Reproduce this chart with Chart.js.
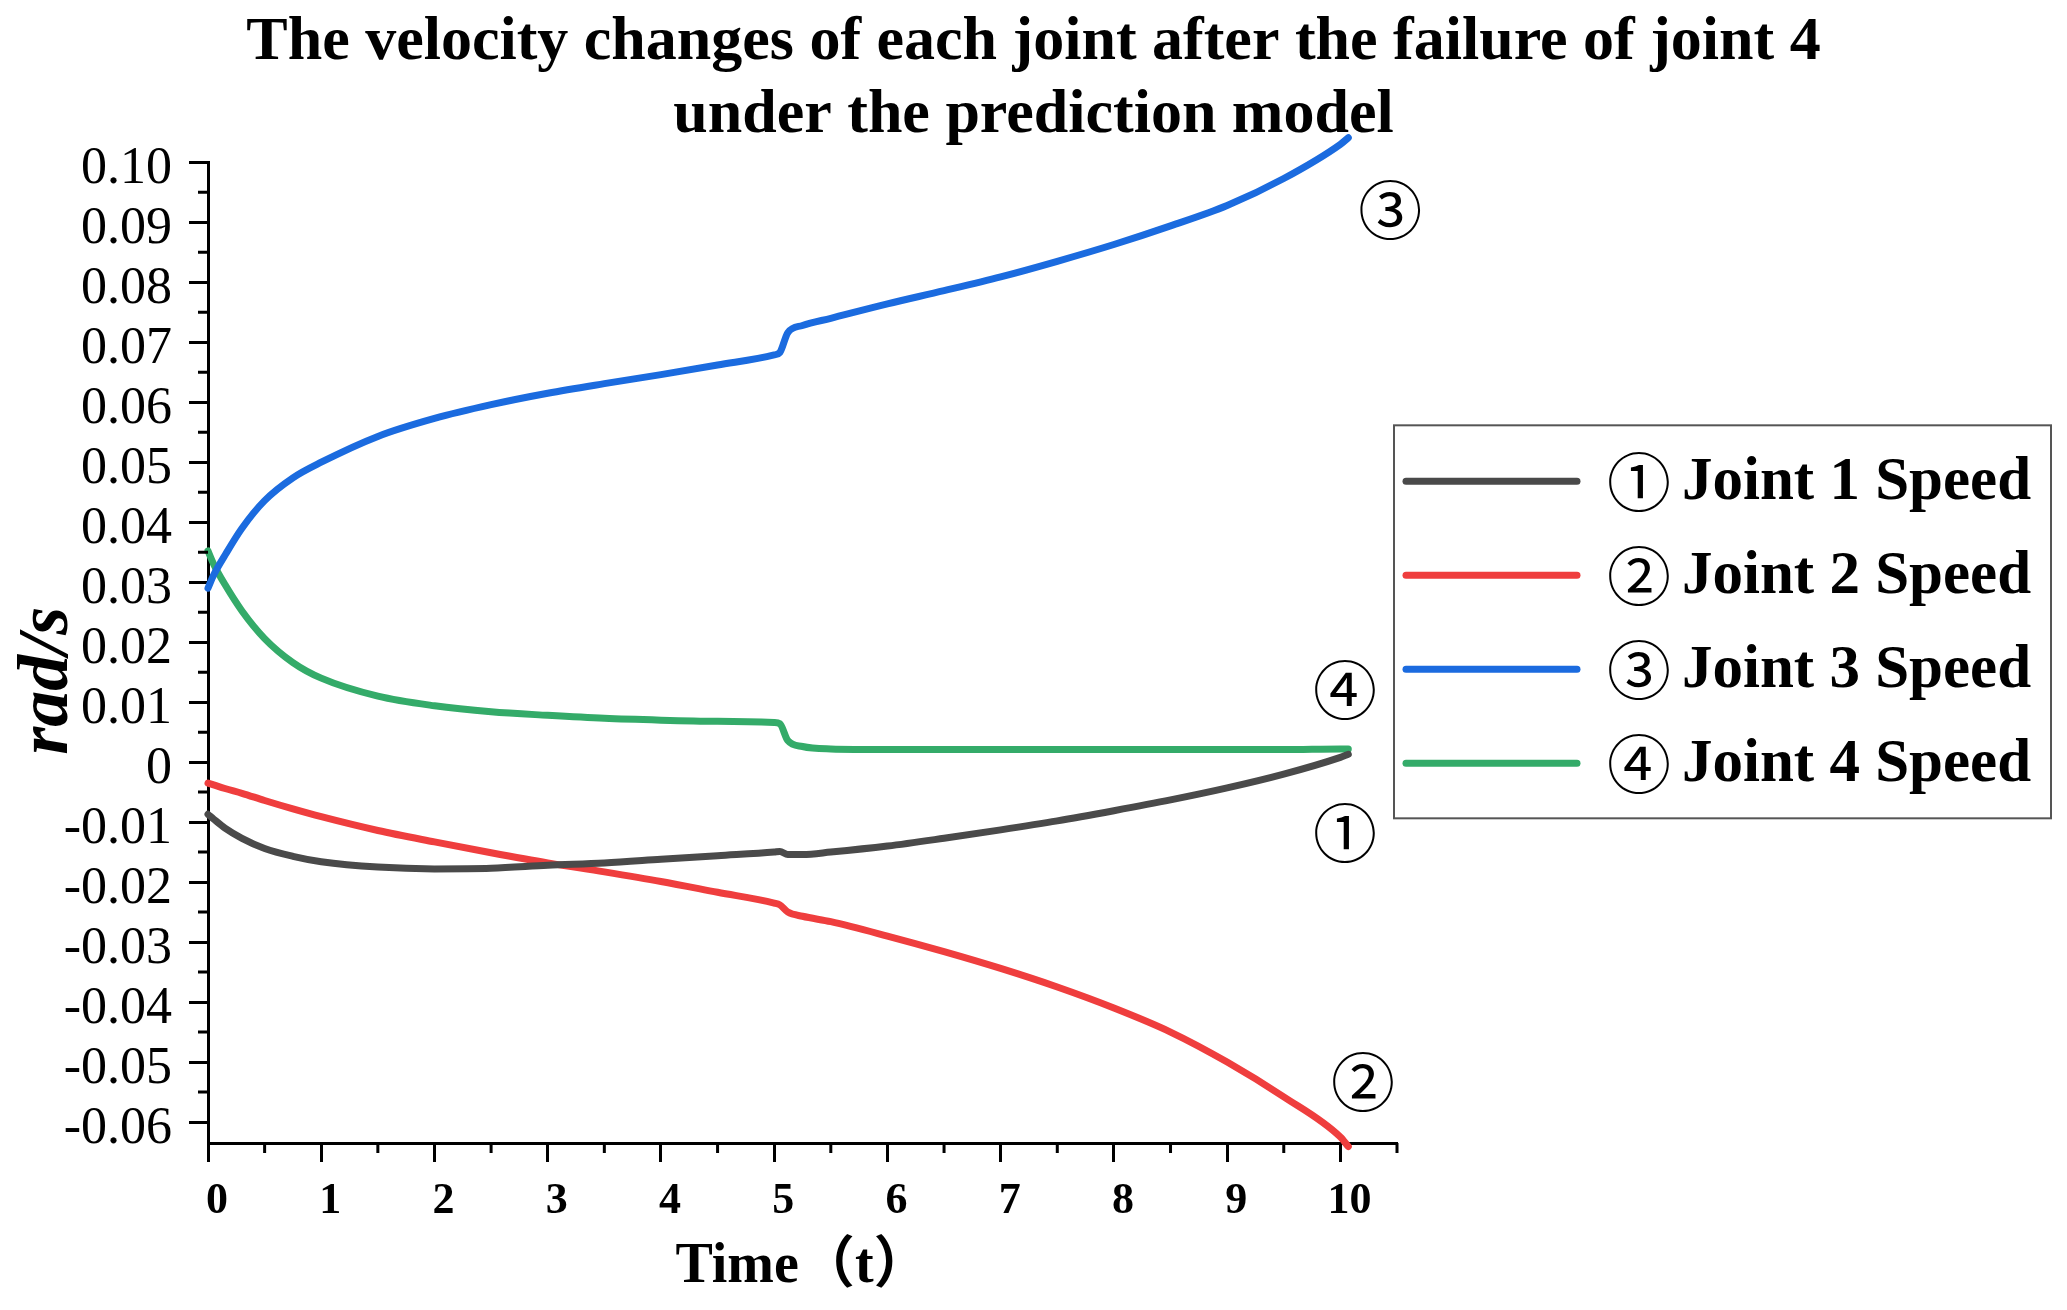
<!DOCTYPE html>
<html>
<head>
<meta charset="utf-8">
<script src="https://cdn.jsdelivr.net/npm/chart.js@4.4.1/dist/chart.umd.min.js"></script>
<style>
html, body { margin: 0; padding: 0; background: #fff; }
#wrap { width: 2067px; height: 1310px; position: relative; }
</style>
</head>
<body>
<div id="wrap"><canvas id="lineChart"></canvas></div>
<script>
// time (t) and speed of each joint (rad/s)
var time = [0, 0.05, 0.15, 0.3, 0.5, 0.75, 1, 1.5, 2, 2.5, 3, 3.5, 4, 4.5, 5, 5.05, 5.12, 5.25, 5.5, 6, 6.5, 7, 7.5, 8, 8.5, 9, 9.5, 10, 10.07];
var joint1 = [-0.0087, -0.0095, -0.0110, -0.0127, -0.0144, -0.0157, -0.0166, -0.0175, -0.0178, -0.0177, -0.0172, -0.0168, -0.0162, -0.0156, -0.0150, -0.0149, -0.0154, -0.0154, -0.0150, -0.0140, -0.0127, -0.0113, -0.0098, -0.0081, -0.0063, -0.0043, -0.0020, 0.0008, 0.0013];
var joint2 = [-0.0035, -0.0038, -0.0044, -0.0052, -0.0064, -0.0078, -0.0091, -0.0114, -0.0133, -0.0151, -0.0168, -0.0183, -0.0199, -0.0217, -0.0235, -0.0238, -0.0250, -0.0257, -0.0266, -0.0290, -0.0316, -0.0344, -0.0375, -0.0410, -0.0450, -0.0500, -0.0558, -0.0625, -0.0641];
var joint3 = [0.0290, 0.0312, 0.0345, 0.0390, 0.0436, 0.0474, 0.0500, 0.0543, 0.0573, 0.0596, 0.0615, 0.0631, 0.0646, 0.0662, 0.0679, 0.0683, 0.0716, 0.0728, 0.0740, 0.0764, 0.0786, 0.0809, 0.0835, 0.0863, 0.0894, 0.0928, 0.0973, 0.1030, 0.1041];
var joint4 = [0.0352, 0.0330, 0.0296, 0.0252, 0.0206, 0.0166, 0.0140, 0.0110, 0.0094, 0.0084, 0.0078, 0.0073, 0.0070, 0.0068, 0.0066, 0.0064, 0.0036, 0.0026, 0.0022, 0.0021, 0.0021, 0.0021, 0.0021, 0.0021, 0.0021, 0.0021, 0.0021, 0.0022, 0.0022];

var seriesNames = ['Joint 1 Speed', 'Joint 2 Speed', 'Joint 3 Speed', 'Joint 4 Speed'];
var seriesMarks = ['①', '②', '③', '④'];
var seriesColors = ['#4a4a4a', '#ef3e3e', '#1b6bdf', '#34ab69'];

// where the circled numbers sit next to the curve ends (t, rad/s)
var markT = [10.04, 10.2, 10.44, 10.04];
var markV = [-0.0118, -0.0533, 0.0921, 0.0121];

var xTicks = [0, 1, 2, 3, 4, 5, 6, 7, 8, 9, 10];
var xMinorTicks = [0.5, 1.5, 2.5, 3.5, 4.5, 5.5, 6.5, 7.5, 8.5, 9.5, 10.5];
var yTicks = [-0.06, -0.05, -0.04, -0.03, -0.02, -0.01, 0, 0.01, 0.02, 0.03, 0.04, 0.05, 0.06, 0.07, 0.08, 0.09, 0.10];
var yTickLabels = ['-0.06', '-0.05', '-0.04', '-0.03', '-0.02', '-0.01', '0', '0.01', '0.02', '0.03', '0.04', '0.05', '0.06', '0.07', '0.08', '0.09', '0.10'];
var yMinorTicks = [-0.055, -0.045, -0.035, -0.025, -0.015, -0.005, 0.005, 0.015, 0.025, 0.035, 0.045, 0.055, 0.065, 0.075, 0.085, 0.095];

var serif = '"Liberation Serif", "Times New Roman", serif';
var markFont = '"Noto Sans CJK SC", "DejaVu Sans", sans-serif';

function points(values) {
    return time.map(function (t, i) { return {x: t, y: values[i]}; });
}

var allSeries = [joint1, joint2, joint3, joint4];
var datasets = allSeries.map(function (values, i) {
    return {
        label: seriesMarks[i] + ' ' + seriesNames[i],
        data: points(values),
        borderColor: seriesColors[i],
        backgroundColor: seriesColors[i],
        borderWidth: 7,
        pointRadius: 0,
        cubicInterpolationMode: 'monotone',
        borderCapStyle: 'round',
        clip: false
    };
});

// minor ticks, rotated y title, curve numbers and the boxed legend
var extras = {
    id: 'extras',
    afterDraw: function (chart) {
        var ctx = chart.ctx;
        var xs = chart.scales.x;
        var ys = chart.scales.y;
        var area = chart.chartArea;
        ctx.save();

        ctx.strokeStyle = '#000';
        ctx.lineWidth = 3;
        ctx.beginPath();
        xMinorTicks.forEach(function (v) {
            var px = xs.getPixelForValue(v);
            ctx.moveTo(px, area.bottom);
            ctx.lineTo(px, area.bottom + 10);
        });
        yMinorTicks.forEach(function (v) {
            var py = ys.getPixelForValue(v);
            ctx.moveTo(area.left, py);
            ctx.lineTo(area.left - 10, py);
        });
        ctx.stroke();

        // y axis title
        ctx.save();
        ctx.translate(48, (area.top + area.bottom) / 2 + 28);
        ctx.rotate(-Math.PI / 2);
        ctx.fillStyle = '#000';
        ctx.font = 'italic bold 72px ' + serif;
        ctx.textAlign = 'center';
        ctx.textBaseline = 'middle';
        ctx.fillText('rad/s', 0, 0);
        ctx.restore();

        // circled numbers at the curve ends
        ctx.fillStyle = '#000';
        ctx.font = '64px ' + markFont;
        ctx.textAlign = 'center';
        ctx.textBaseline = 'middle';
        seriesMarks.forEach(function (m, i) {
            ctx.fillText(m, xs.getPixelForValue(markT[i]), ys.getPixelForValue(markV[i]));
        });

        // legend
        var lx = area.right - 3;
        var ly = area.top + 263;
        ctx.strokeStyle = '#555';
        ctx.lineWidth = 2;
        ctx.strokeRect(lx, ly, 657, 393);
        chart.data.datasets.forEach(function (ds, i) {
            var ry = ly + 56 + i * 94;
            ctx.strokeStyle = ds.borderColor;
            ctx.lineWidth = 7;
            ctx.lineCap = 'round';
            ctx.beginPath();
            ctx.moveTo(lx + 12, ry);
            ctx.lineTo(lx + 183, ry);
            ctx.stroke();
            ctx.fillStyle = '#000';
            ctx.textAlign = 'left';
            ctx.textBaseline = 'middle';
            ctx.font = '64px ' + markFont;
            ctx.fillText(seriesMarks[i], lx + 213, ry);
            ctx.font = 'bold 61px ' + serif;
            ctx.fillText(seriesNames[i], lx + 288, ry + 2);
        });
        ctx.restore();
    }
};

var ctx = document.getElementById('lineChart').getContext('2d');
var myChart = new Chart(ctx, {
    type: 'line',
    data: {
        datasets: datasets
    },
    plugins: [extras],
    options: {
        responsive: true,
        maintainAspectRatio: false,
        animation: false,
        devicePixelRatio: 1,
        layout: {
            padding: 0
        },
        plugins: {
            legend: {display: false},
            tooltip: {enabled: false},
            title: {
                display: true,
                text: ['The velocity changes of each joint after the failure of joint 4', 'under the prediction model'],
                color: '#000',
                font: {family: serif, size: 62, weight: 'bold', lineHeight: 1.18},
                padding: {top: 6, bottom: 10}
            }
        },
        scales: {
            x: {
                type: 'linear',
                min: 0,
                max: 10.5,
                afterBuildTicks: function (scale) {
                    scale.ticks = xTicks.map(function (v) { return {value: v}; });
                },
                afterFit: function (scale) { scale.height = 167; },
                grid: {
                    drawOnChartArea: false,
                    drawTicks: true,
                    tickLength: 19,
                    tickWidth: 3,
                    tickColor: '#000'
                },
                border: {display: true, color: '#000', width: 3},
                ticks: {
                    color: '#000',
                    font: {family: serif, size: 44, weight: 'bold', lineHeight: 1.2},
                    padding: 13,
                    labelOffset: 9,
                    autoSkip: false,
                    maxRotation: 0,
                    callback: function (value) { return String(value); }
                },
                title: {
                    display: true,
                    text: 'Time（t）',
                    color: '#000',
                    font: {family: serif + ', "Noto Sans CJK SC"', size: 56, weight: 'bold', lineHeight: 1.2},
                    padding: {top: 0, bottom: 9}
                }
            },
            y: {
                min: -0.0635,
                max: 0.10,
                afterBuildTicks: function (scale) {
                    scale.ticks = yTicks.map(function (v) { return {value: v}; });
                },
                afterFit: function (scale) { scale.width = 208; },
                grid: {
                    drawOnChartArea: false,
                    drawTicks: true,
                    tickLength: 19,
                    tickWidth: 3,
                    tickColor: '#000'
                },
                border: {display: true, color: '#000', width: 3},
                ticks: {
                    color: '#000',
                    font: {family: serif, size: 52, lineHeight: 1.2},
                    padding: 17,
                    labelOffset: 7,
                    autoSkip: false,
                    callback: function (value, index) { return yTickLabels[index]; }
                }
            },
            // empty axis on the right that keeps room for the boxed legend
            legendSpace: {
                type: 'linear',
                position: 'right',
                display: true,
                afterFit: function (scale) { scale.width = 670; },
                grid: {display: false},
                border: {display: false},
                ticks: {display: false}
            }
        }
    }
});
</script>
</body>
</html>
